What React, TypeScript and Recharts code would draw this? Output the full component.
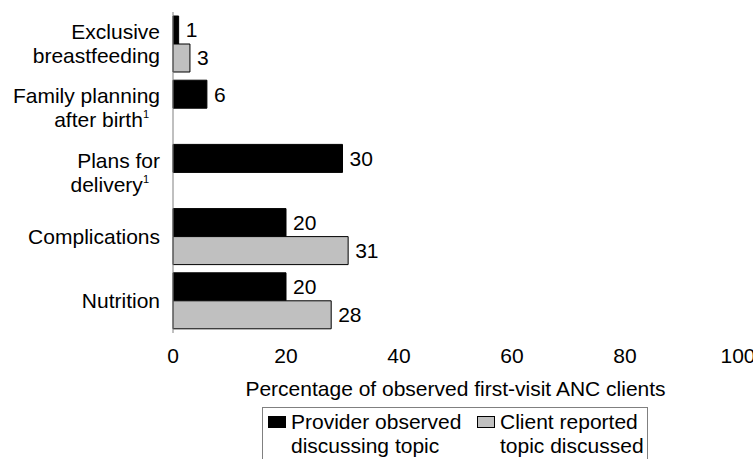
import React from 'react';
import { BarChart, Bar, XAxis, YAxis, LabelList, Legend, Label } from 'recharts';

// Topics discussed at first ANC visit, top to bottom
const categories = [
  'Exclusive\nbreastfeeding',
  'Family planning\nafter birth',
  'Plans for\ndelivery',
  'Complications',
  'Nutrition',
];
const footnotes = ['', '1', '1', '', ''];
const providerObserved: (number | null)[] = [1, 6, 30, 20, 20];
const clientReported: (number | null)[] = [3, null, null, 31, 28];
const xTicks = [0, 20, 40, 60, 80, 100];
const seriesNames = ['Provider observed\ndiscussing topic', 'Client reported\ntopic discussed'];
const axisTitle = 'Percentage of observed first-visit ANC clients';

const FONT = '"Liberation Sans", Arial, Helvetica, sans-serif';
const FONT_SIZE = 21;

const data = categories.map((name, i) => ({
  name,
  provider: providerObserved[i],
  client: clientReported[i],
}));

const CategoryTick = (props: any) => {
  const { x, y, payload } = props;
  const idx = categories.indexOf(payload.value);
  const note = idx >= 0 ? footnotes[idx] : '';
  const lines = String(payload.value).split('\n');
  const lineGap = 24;
  return (
    <g>
      {lines.map((line, k) => {
        const isLast = k === lines.length - 1;
        const withNote = isLast && note;
        const baseline = y + 7 + (k - (lines.length - 1) / 2) * lineGap;
        return (
          <text
            key={k}
            x={withNote ? x - 11 : x}
            y={baseline}
            textAnchor="end"
            fill="#000"
            fontSize={FONT_SIZE}
            fontFamily={FONT}
          >
            {line}
            {withNote ? (
              <tspan fontSize={11} dy={-9}>
                {note}
              </tspan>
            ) : null}
          </text>
        );
      })}
    </g>
  );
};

const LegendBox = (props: any) => {
  const payload = [...(props.payload || [])].sort(
    (a: any, b: any) => seriesNames.indexOf(a.value) - seriesNames.indexOf(b.value)
  );
  return (
    <div
      style={{
        border: '1px solid #808080',
        boxSizing: 'border-box',
        width: 386,
        height: 70,
        padding: '2px 0 0 5px',
        display: 'flex',
        fontFamily: FONT,
        fontSize: FONT_SIZE,
        lineHeight: '24px',
        color: '#000',
        background: '#fff',
      }}
    >
      {payload.map((entry: any, i: number) => (
        <div
          key={i}
          style={{ display: 'flex', alignItems: 'flex-start', width: i === 0 ? 209 : 'auto' }}
        >
          <span
            style={{
              display: 'inline-block',
              boxSizing: 'border-box',
              width: 18,
              height: 12,
              marginTop: 6,
              marginRight: 5,
              background: entry.color,
              border: '1px solid #000',
            }}
          />
          <div>
            {String(entry.value)
              .split('\n')
              .map((t, k) => (
                <div key={k} style={{ whiteSpace: 'nowrap' }}>
                  {t}
                </div>
              ))}
          </div>
        </div>
      ))}
    </div>
  );
};

export default function App() {
  return (
    <div
      style={{
        position: 'absolute',
        left: 0,
        top: 0,
        width: 753,
        height: 459,
        overflow: 'hidden',
        background: '#fff',
      }}
    >
      <BarChart
        width={753}
        height={459}
        data={data}
        layout="vertical"
        margin={{ top: 12, right: 15, bottom: 56, left: 0 }}
        barGap={0}
      >
        <XAxis
          type="number"
          domain={[0, 100]}
          ticks={xTicks}
          interval={0}
          axisLine={false}
          tickLine={false}
          tickMargin={9}
          height={70}
          tick={{ fontSize: FONT_SIZE, fill: '#000', fontFamily: FONT }}
        >
          <Label
            value={axisTitle}
            position="insideTop"
            offset={48}
            fill="#000"
            fontSize={FONT_SIZE}
            fontFamily={FONT}
          />
        </XAxis>
        <YAxis
          type="category"
          dataKey="name"
          width={173}
          interval={0}
          axisLine={{ stroke: '#808080', strokeWidth: 1 }}
          tickLine={false}
          tickMargin={7}
          tick={<CategoryTick />}
        />
        <Legend
          layout="horizontal"
          verticalAlign="middle"
          align="center"
          content={<LegendBox />}
          wrapperStyle={{ left: 262, top: 407, width: 386, height: 70 }}
        />
        <Bar
          dataKey="provider"
          name={seriesNames[0]}
          fill="#000000"
          stroke="#000000"
          strokeWidth={1}
          barSize={28}
          isAnimationActive={false}
        >
          <LabelList
            dataKey="provider"
            position="right"
            offset={7}
            fill="#000"
            fontSize={FONT_SIZE}
            fontFamily={FONT}
          />
        </Bar>
        <Bar
          dataKey="client"
          name={seriesNames[1]}
          fill="#c0c0c0"
          stroke="#000000"
          strokeWidth={1}
          barSize={28}
          isAnimationActive={false}
        >
          <LabelList
            dataKey="client"
            position="right"
            offset={7}
            fill="#000"
            fontSize={FONT_SIZE}
            fontFamily={FONT}
          />
        </Bar>
      </BarChart>
    </div>
  );
}
